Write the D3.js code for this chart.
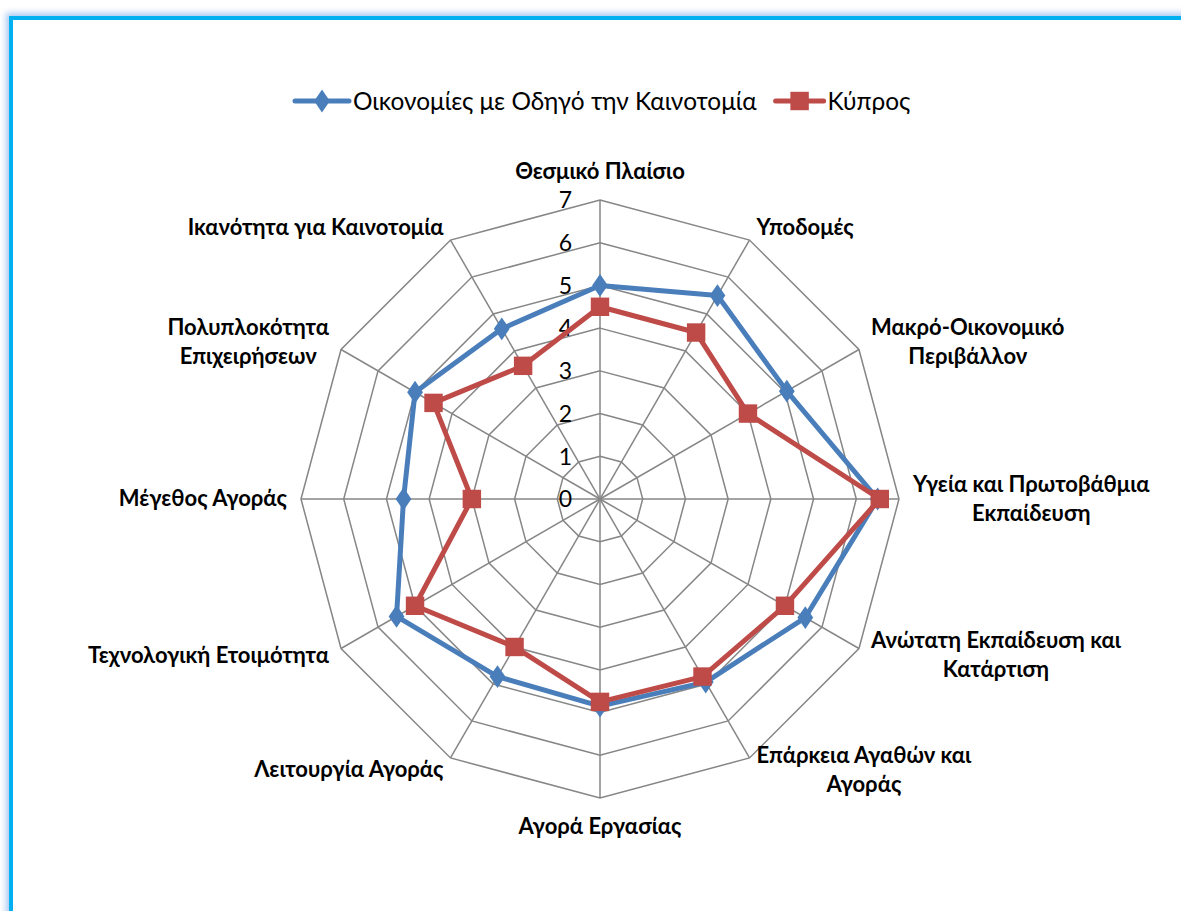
<!DOCTYPE html>
<html>
<head>
<meta charset="utf-8">
<script src="https://cdn.jsdelivr.net/npm/d3@7"></script>
<style>
  body { margin: 0; background: #fff; }
  svg { display: block; }
</style>
</head>
<body>
<script>
// categories (line breaks as in the original chart)
var categories = [
    "Θεσμικό Πλαίσιο",
    "Υποδομές",
    "Μακρό-Οικονομικό\nΠεριβάλλον",
    "Υγεία και Πρωτοβάθμια\nΕκπαίδευση",
    "Ανώτατη Εκπαίδευση και\nΚατάρτιση",
    "Επάρκεια Αγαθών και\nΑγοράς",
    "Αγορά Εργασίας",
    "Λειτουργία Αγοράς",
    "Τεχνολογική Ετοιμότητα",
    "Μέγεθος Αγοράς",
    "Πολυπλοκότητα\nΕπιχειρήσεων",
    "Ικανότητα για Καινοτομία"
];
var innovationValues = [5.0, 5.5, 5.05, 6.5, 5.55, 4.95, 4.85, 4.8, 5.5, 4.6, 5.0, 4.6];
var cyprusValues = [4.5, 4.5, 4.0, 6.55, 5.0, 4.8, 4.75, 4.0, 5.0, 3.0, 4.5, 3.6];
var seriesNames = ["Οικονομίες με Οδηγό την Καινοτομία", "Κύπρος"];
var tickValues = [0, 1, 2, 3, 4, 5, 6, 7];

document.addEventListener("DOMContentLoaded", () => {
    drawRadar();
});

function drawRadar() {
    var width = 1181, height = 911;
    var cx = 600, cy = 499, radius = 299;
    var font = "Lato, 'Open Sans', sans-serif";

    var svg = d3.select("body").append("svg")
        .attr("width", width)
        .attr("height", height);

    // blurred blue frame
    var defs = svg.append("defs");
    var f = defs.append("filter").attr("id", "glow")
        .attr("x", "-5%").attr("y", "-5%").attr("width", "110%").attr("height", "110%");
    f.append("feGaussianBlur").attr("stdDeviation", 3);

    svg.append("rect")
        .attr("x", 11).attr("y", 18)
        .attr("width", 1300).attr("height", 1000)
        .attr("fill", "none")
        .attr("stroke", "#a9c8f2")
        .attr("stroke-width", 10)
        .attr("filter", "url(#glow)");
    svg.append("rect")
        .attr("x", 11).attr("y", 18)
        .attr("width", 1300).attr("height", 1000)
        .attr("fill", "#fff")
        .attr("stroke", "#00b0f0")
        .attr("stroke-width", 4);

    var r = d3.scaleLinear().domain([0, 7]).range([0, radius]);
    var angle = d3.scalePoint()
        .domain(d3.range(categories.length))
        .range([0, 2 * Math.PI * (categories.length - 1) / categories.length]);

    function pt(i, v) {
        var a = angle(i);
        return [cx + r(v) * Math.sin(a), cy - r(v) * Math.cos(a)];
    }

    var g = svg.append("g");

    // grid rings
    tickValues.slice(1).forEach(function(t) {
        g.append("polygon")
            .attr("points", categories.map(function(c, i) { return pt(i, t).join(","); }).join(" "))
            .attr("fill", "none")
            .attr("stroke", "#868686")
            .attr("stroke-width", 1.5);
    });

    // spokes
    g.selectAll(".spoke")
        .data(categories)
        .enter().append("line")
        .attr("class", "spoke")
        .attr("x1", cx).attr("y1", cy)
        .attr("x2", function(d, i) { return pt(i, 7)[0]; })
        .attr("y2", function(d, i) { return pt(i, 7)[1]; })
        .attr("stroke", "#868686")
        .attr("stroke-width", 1.5);

    // tick labels
    g.selectAll(".tick")
        .data(tickValues)
        .enter().append("text")
        .attr("class", "tick")
        .attr("x", cx - 28)
        .attr("y", function(d) { return cy - r(d); })
        .attr("dy", "0.36em")
        .attr("text-anchor", "end")
        .style("font-family", font)
        .style("font-size", "23px")
        .text(function(d) { return d; });

    // category labels
    var pad = 14;
    categories.forEach(function(c, i) {
        var a = angle(i);
        var s = Math.sin(a), co = Math.cos(a);
        var px = cx + (radius + pad) * s, py = cy - (radius + pad) * co;
        var lines = c.split("\n");
        var lh = 29;
        var t = g.append("text")
            .style("font-family", font)
            .style("font-weight", "bold")
            .style("font-size", "22px")
            .attr("fill", "#000")
            .attr("text-anchor", "middle");
        lines.forEach(function(l, k) {
            t.append("tspan").attr("x", 0).attr("dy", k === 0 ? 0 : lh).text(l);
        });
        var w = d3.max(t.selectAll("tspan").nodes(), function(n) { return n.getComputedTextLength(); });
        var h = lines.length * lh;
        var bx, by;
        if (Math.abs(s) < 0.01) {
            bx = px;
            by = co > 0 ? py - h : py;
        } else {
            bx = s > 0 ? px + w / 2 : px - w / 2;
            by = py - h / 2;
        }
        t.selectAll("tspan").attr("x", bx);
        t.attr("y", by + lh / 2 + 7);
    });

    // series
    var series = [
        {name: seriesNames[0], values: innovationValues, color: "#4a7ebb", shape: d3.symbolDiamond, size: 150},
        {name: seriesNames[1], values: cyprusValues, color: "#be4b48", shape: d3.symbolSquare, size: 340}
    ];

    var line = d3.line().curve(d3.curveLinearClosed);

    series.forEach(function(sr) {
        var pts = sr.values.map(function(v, i) { return pt(i, v); });
        g.append("path")
            .attr("d", line(pts))
            .attr("fill", "none")
            .attr("stroke", sr.color)
            .attr("stroke-width", 5)
            .attr("stroke-linejoin", "round");
        g.selectAll(null)
            .data(pts)
            .enter().append("path")
            .attr("transform", function(p) {
                return "translate(" + p[0] + "," + p[1] + ")" + (sr.shape === d3.symbolDiamond ? " scale(1.2,1)" : "");
            })
            .attr("d", d3.symbol().type(sr.shape).size(sr.size))
            .attr("fill", sr.color);
    });

    // legend, laid out left to right
    var legend = svg.append("g").attr("transform", "translate(295,101)");
    var lxPos = 0;
    series.forEach(function(sr, k) {
        var lineLen = k === 0 ? 54 : 48;
        var lg = legend.append("g").attr("transform", "translate(" + lxPos + ",0)");
        lg.append("line")
            .attr("x1", 0).attr("x2", lineLen)
            .attr("stroke", sr.color)
            .attr("stroke-width", 5)
            .attr("stroke-linecap", "round");
        lg.append("path")
            .attr("transform", "translate(" + lineLen / 2 + ",0)" + (sr.shape === d3.symbolDiamond ? " scale(1.2,1)" : ""))
            .attr("d", d3.symbol().type(sr.shape).size(sr.size))
            .attr("fill", sr.color);
        var txt = lg.append("text")
            .attr("x", lineLen + 4)
            .attr("dy", "0.36em")
            .style("font-family", font)
            .style("font-size", "24.4px")
            .text(sr.name);
        lxPos += lineLen + 4 + txt.node().getComputedTextLength() + 19;
    });
}
</script>
</body>
</html>
